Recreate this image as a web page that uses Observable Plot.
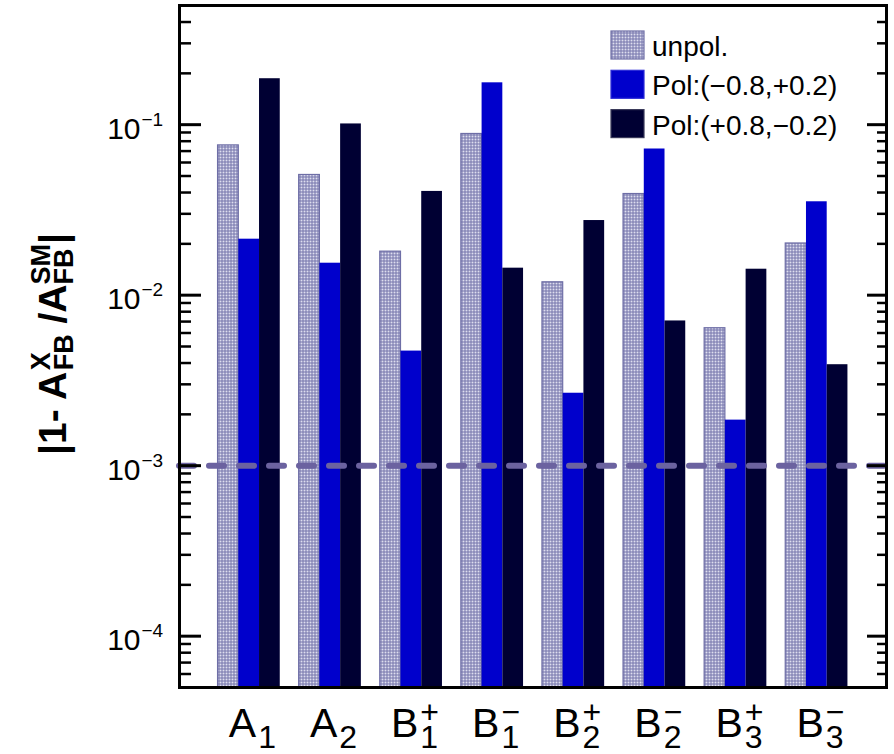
<!DOCTYPE html>
<html><head><meta charset="utf-8">
<script src="https://cdn.jsdelivr.net/npm/d3@7"></script>
<script src="https://cdn.jsdelivr.net/npm/@observablehq/plot@0.6"></script>
<style>body{margin:0;background:#fff} #chart{position:relative;width:894px;height:754px}</style>
</head><body><div id="chart"></div>
<script>
// ---- data ----
const categories = ["A1", "A2", "B1+", "B1-", "B2+", "B2-", "B3+", "B3-"];
const baseLetters = ["A", "A", "B", "B", "B", "B", "B", "B"];
const subLabels = ["1", "2", "1", "1", "2", "2", "3", "3"];
const supLabels = ["", "", "+", "\u2212", "+", "\u2212", "+", "\u2212"];
const unpol = [0.0756, 0.0507, 0.0180, 0.0882, 0.0119, 0.0392, 0.0064, 0.0201];
const polMinus = [0.0213, 0.0154, 0.0047, 0.176, 0.00266, 0.072, 0.00185, 0.0353];
const polPlus = [0.186, 0.101, 0.0406, 0.0144, 0.0274, 0.00706, 0.0142, 0.00391];
const seriesNames = ["unpol.", "Pol:(\u22120.8,+0.2)", "Pol:(+0.8,\u22120.2)"];
const yMajorTicks = [1e-4, 1e-3, 1e-2, 1e-1];
const yTickExponents = ["\u22124", "\u22123", "\u22122", "\u22121"];
const referenceLine = [1e-3];

// ---- layout ----
const W = 894, H = 754, ML = 179, MR = 8, MT = 5, MB = 67;
const FONT = '"Liberation Sans", Arial, Helvetica, sans-serif';
const yMin = 5e-5, yMax = 0.5;
const padIn = 0.233, padOut = 0.4755;
const step = (W - ML - MR) / (categories.length - padIn + 2 * padOut);
const bw = step * (1 - padIn);
const third = bw / 3;

const rows = categories.map((c, i) => ({
  cat: c, base: baseLetters[i], sub: subLabels[i], sup: supLabels[i],
  unpol: unpol[i], polA: polMinus[i], polB: polPlus[i]
}));
const tickRows = yMajorTicks.map((v, i) => ({v, e: yTickExponents[i]}));
const minorTicks = [];
for (let e = -5; e <= -1; e++) for (let m = 2; m <= 9; m++) {
  const v = m * Math.pow(10, e);
  if (v > yMin * 1.001 && v < yMax * 0.999) minorTicks.push(v);
}

const svgNS = "http://www.w3.org/2000/svg";
function el(tag, attrs = {}, text) {
  const n = document.createElementNS(svgNS, tag);
  for (const k in attrs) n.setAttribute(k, attrs[k]);
  if (text != null) n.textContent = text;
  return n;
}
const mctx = document.createElement("canvas").getContext("2d");
function tw(s, size, weight, fam) { mctx.font = `${weight} ${size}px ${fam}`; return mctx.measureText(s).width; }

function defsMark() {
  const defs = el("defs");
  const pat = el("pattern", {id: "unpolPattern", width: 3, height: 3, patternUnits: "userSpaceOnUse"});
  pat.append(el("rect", {width: 3, height: 3, fill: "#7474ac"}), el("rect", {x: 0.5, y: 0.5, width: 2, height: 2, fill: "#dedeee"}));
  defs.append(pat);
  return defs;
}

function legendMark() {
  const g = el("g", {"text-anchor": "start"});
  const fills = ["url(#unpolPattern)", "#0000cc", "#000033"];
  const strokes = ["#6e6ea6", "#2a2ad8", "#3a3a5a"];
  seriesNames.forEach((name, i) => {
    const top = 31 + i * 39.3;
    g.append(el("rect", {x: 611, y: top, width: 33, height: 28, fill: fills[i], stroke: strokes[i], "stroke-width": 1.2}));
    g.append(el("text", {x: 652, y: top + 25, "font-size": 28, "font-family": FONT, fill: "#000", "text-anchor": "start"}, name));
  });
  return g;
}

function yTitleMark() {
  const main = 39, small = 27, wt = "bold";
  const runs = [{t: "|1- A"}, {sup: "X", sub: "FB"}, {t: " /A"}, {sup: "SM", sub: "FB"}, {t: "|"}];
  runs.forEach(r => {
    r.w = r.t != null ? tw(r.t, main, wt, FONT) : Math.max(tw(r.sup, small, wt, FONT), tw(r.sub, small, wt, FONT));
  });
  const total = runs.reduce((s, r) => s + r.w, 0);
  const g = el("g", {transform: `translate(66,344) rotate(-90)`, "font-family": FONT, "font-weight": wt, fill: "#000", "text-anchor": "start"});
  let x = -total / 2;
  for (const r of runs) {
    if (r.t != null) g.append(el("text", {x, y: 0, "font-size": main, "xml:space": "preserve"}, r.t));
    else {
      g.append(el("text", {x, y: -16, "font-size": small}, r.sup));
      g.append(el("text", {x, y: 7, "font-size": small}, r.sub));
    }
    x += r.w;
  }
  return g;
}

const chart = Plot.plot({
  width: W, height: H, marginLeft: ML, marginRight: MR, marginTop: MT, marginBottom: MB,
  style: {fontFamily: FONT, background: "#fff", overflow: "visible"},
  x: {type: "band", domain: categories, paddingInner: padIn, paddingOuter: padOut, round: false, axis: null},
  y: {type: "log", domain: [yMin, yMax], axis: null},
  marks: [
    defsMark,
    Plot.barY(rows, {x: "cat", y1: yMin, y2: "unpol", insetLeft: 0, insetRight: 2 * third,
      fill: "url(#unpolPattern)", stroke: "#6e6ea6", strokeWidth: 1.2}),
    Plot.barY(rows, {x: "cat", y1: yMin, y2: "polA", insetLeft: third, insetRight: third, fill: "#0000cc"}),
    Plot.barY(rows, {x: "cat", y1: yMin, y2: "polB", insetLeft: 2 * third, insetRight: 0, fill: "#000033"}),
    Plot.ruleY(referenceLine, {stroke: "#6b62a0", strokeWidth: 6, strokeDasharray: "15,15", strokeLinecap: "round"}),
    Plot.axisY(yMajorTicks, {anchor: "left", tickSize: -22, tickFormat: () => "", strokeWidth: 3, label: null}),
    Plot.axisY(minorTicks, {anchor: "left", tickSize: -12, tickFormat: () => "", strokeWidth: 2.5, label: null}),
    Plot.axisY(yMajorTicks, {anchor: "right", tickSize: -20, tickFormat: () => "", strokeWidth: 3, label: null}),
    Plot.axisY(minorTicks, {anchor: "right", tickSize: -10, tickFormat: () => "", strokeWidth: 2.5, label: null}),
    Plot.frame({stroke: "#000", strokeWidth: 3}),
    Plot.text(tickRows, {y: "v", text: () => "10", frameAnchor: "left", textAnchor: "end", dx: -39, dy: 4.6, fontSize: 30, fill: "#000"}),
    Plot.text(tickRows, {y: "v", text: "e", frameAnchor: "left", textAnchor: "start", dx: -38, dy: -5, fontSize: 19, fill: "#000"}),
    Plot.text(rows, {x: "cat", text: "base", frameAnchor: "bottom", lineAnchor: "top", textAnchor: "end", dx: 7, dy: 20, fontSize: 41, fill: "#000"}),
    Plot.text(rows, {x: "cat", text: "sub", frameAnchor: "bottom", lineAnchor: "top", textAnchor: "start", dx: 9, dy: 38, fontSize: 32, fill: "#000"}),
    Plot.text(rows, {x: "cat", text: "sup", frameAnchor: "bottom", lineAnchor: "top", textAnchor: "start", dx: 9, dy: 13, fontSize: 32, fill: "#000"}),
    legendMark,
    yTitleMark
  ]
});
document.getElementById("chart").append(chart);
</script>
</body></html>
